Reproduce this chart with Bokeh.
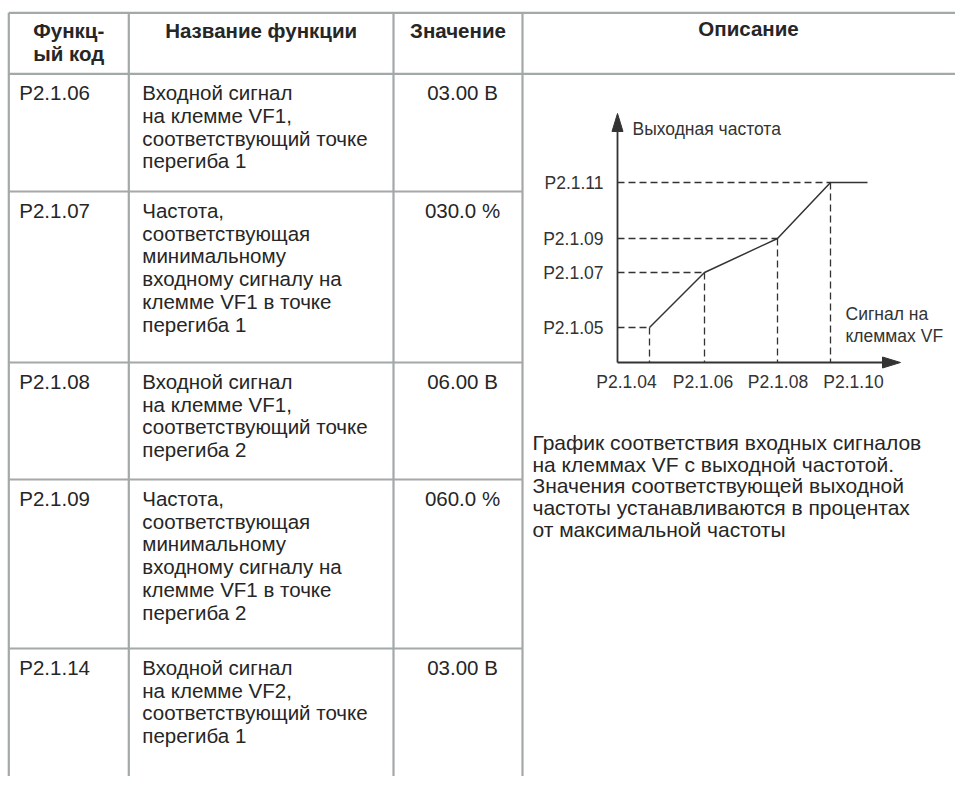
from bokeh.plotting import figure
from bokeh.models import Range1d
from bokeh.core.properties import value
from bokeh.embed import file_html
from bokeh.resources import INLINE

# ---------------- data ----------------
header_code = ["Функц-", "ый код"]
header_name = "Название функции"
header_value = "Значение"
header_desc = "Описание"

codes = ["P2.1.06", "P2.1.07", "P2.1.08", "P2.1.09", "P2.1.14"]
names = [
    ["Входной сигнал", "на клемме VF1,", "соответствующий точке", "перегиба 1"],
    ["Частота,", "соответствующая", "минимальному", "входному сигналу на", "клемме VF1 в точке", "перегиба 1"],
    ["Входной сигнал", "на клемме VF1,", "соответствующий точке", "перегиба 2"],
    ["Частота,", "соответствующая", "минимальному", "входному сигналу на", "клемме VF1 в точке", "перегиба 2"],
    ["Входной сигнал", "на клемме VF2,", "соответствующий точке", "перегиба 1"],
]
values = ["03.00 В", "030.0 %", "06.00 В", "060.0 %", "03.00 В"]
description = [
    "График соответствия входных сигналов",
    "на клеммах VF с выходной частотой.",
    "Значения соответствующей выходной",
    "частоты устанавливаются в процентах",
    "от максимальной частоты",
]

# inflection-chart data (schematic units)
x_tick_labels = ["P2.1.04", "P2.1.06", "P2.1.08", "P2.1.10"]
y_tick_labels = ["P2.1.05", "P2.1.07", "P2.1.09", "P2.1.11"]
signal = [3.2, 8.7, 16.0, 21.3]
freq = [3.5, 9.0, 12.4, 18.0]
signal_end = 25.0
axis_x_end = 28.3
axis_y_end = 24.9
y_axis_title = "Выходная частота"
x_axis_title = ["Сигнал на", "клеммах VF"]

# ---------------- layout / style ----------------
W, H = 955, 776
FONT = value("Liberation Sans")
TXT = "#262626"
GRID = "#a3a8a8"
CH = "#333333"
FS = "20.5px"
DFS = "21px"
CFS = "17.5px"

col_x = [8.3, 128.3, 393.0, 522.0]
right_x = 975.0
row_y = [12.3, 73.3, 191.0, 362.0, 479.0, 648.0]
bottom_y = 800.0
line_h = 22.7
first_off = 19.0

p = figure(width=W, height=H, x_range=Range1d(0, W), y_range=Range1d(H, 0),
           output_backend="svg", toolbar_location=None, min_border=0,
           x_axis_type=None, y_axis_type=None)
p.outline_line_color = None
p.xgrid.visible = False
p.ygrid.visible = False
p.background_fill_color = "white"
p.border_fill_color = "white"

# table lines
x0s, y0s, x1s, y1s = [], [], [], []
for y in row_y[:2]:
    x0s.append(col_x[0]); x1s.append(right_x); y0s.append(y); y1s.append(y)
for y in row_y[2:]:
    x0s.append(col_x[0]); x1s.append(col_x[3]); y0s.append(y); y1s.append(y)
for x in col_x:
    x0s.append(x); x1s.append(x); y0s.append(row_y[0]); y1s.append(bottom_y)
p.segment(x0=x0s, y0=y0s, x1=x1s, y1=y1s, line_color=GRID, line_width=2.2)

# header
hx, hy, ht = [], [], []
cx1 = (col_x[0] + col_x[1]) / 2
for i, t in enumerate(header_code):
    hx.append(cx1); hy.append(row_y[0] + 17.7 + i * line_h); ht.append(t)
hx += [(col_x[1] + col_x[2]) / 2, (col_x[2] + col_x[3]) / 2, 748]
hy += [row_y[0] + 17.7, row_y[0] + 17.7, row_y[0] + 16.0]
ht += [header_name, header_value, header_desc]
p.text(x=hx, y=hy, text=ht, text_font=FONT, text_font_size=FS, text_font_style="bold",
       text_color=TXT, text_align="center", text_baseline="middle")

# body rows
bx, by, bt = [], [], []
vx, vy, vt = [], [], []
for r in range(len(codes)):
    top = row_y[r + 1]
    bx.append(col_x[0] + 10.5); by.append(top + first_off); bt.append(codes[r])
    for k, line in enumerate(names[r]):
        bx.append(col_x[1] + 13.5); by.append(top + first_off + k * line_h); bt.append(line)
    vx.append(462); vy.append(top + first_off); vt.append(values[r])
p.text(x=bx, y=by, text=bt, text_font=FONT, text_font_size=FS, text_color=TXT,
       text_align="left", text_baseline="middle")
p.text(x=vx, y=vy, text=vt, text_font=FONT, text_font_size=FS, text_color=TXT,
       text_align="center", text_baseline="middle")

# description
p.text(x=[532] * len(description), y=[442 + k * 21.7 for k in range(len(description))],
       text=description, text_font=FONT, text_font_size=DFS, text_color=TXT,
       text_align="left", text_baseline="middle")

# ---------------- inflection chart on its own ranges ----------------
ox, oy, unit = 617.0, 362.0, 10.0
p.extra_x_ranges = {"cx": Range1d((0 - ox) / unit, (W - ox) / unit)}
p.extra_y_ranges = {"cy": Range1d((oy - H) / unit, (oy - 0) / unit)}
R = dict(x_range_name="cx", y_range_name="cy")

# dashed guides
p.segment(x0=[0] * 4, y0=freq, x1=signal, y1=freq, line_color=CH, line_width=1.3,
          line_dash="7 4", **R)
p.segment(x0=signal, y0=freq, x1=signal, y1=[0] * 4, line_color=CH, line_width=1.3,
          line_dash="7 4", **R)
# characteristic
p.line(x=signal + [signal_end], y=freq + [freq[-1]], line_color=CH, line_width=1.5, **R)
# axes
p.segment(x0=[0, 0], y0=[0, 0], x1=[0, axis_x_end - 1.0], y1=[axis_y_end - 1.0, 0],
          line_color=CH, line_width=1.8, **R)
hl, hw = 1.8, 0.55
p.patches(xs=[[-hw, 0, hw], [axis_x_end - hl, axis_x_end, axis_x_end - hl]],
          ys=[[axis_y_end - hl, axis_y_end, axis_y_end - hl], [hw, 0, -hw]],
          fill_color=CH, line_color=CH, line_width=1, **R)

# tick labels
p.text(x=[0] * 4, y=freq, text=y_tick_labels, x_offset=-14, text_font=FONT,
       text_font_size=CFS, text_color=CH, text_align="right", text_baseline="middle", **R)
x_label_pos = [0.9, 8.55, 16.05, 23.6]
p.text(x=x_label_pos, y=[-1.97] * 4, text=x_tick_labels, text_font=FONT,
       text_font_size=CFS, text_color=CH, text_align="center", text_baseline="middle", **R)
# axis titles
p.text(x=[1.5], y=[23.4], text=[y_axis_title], text_font=FONT, text_font_size=CFS,
       text_color=CH, text_align="left", text_baseline="middle", **R)
p.text(x=[22.8, 22.8], y=[4.9, 2.7], text=x_axis_title, text_font=FONT, text_font_size=CFS,
       text_color=CH, text_align="left", text_baseline="middle", **R)

open("out.html", "w").write(file_html(p, INLINE))
